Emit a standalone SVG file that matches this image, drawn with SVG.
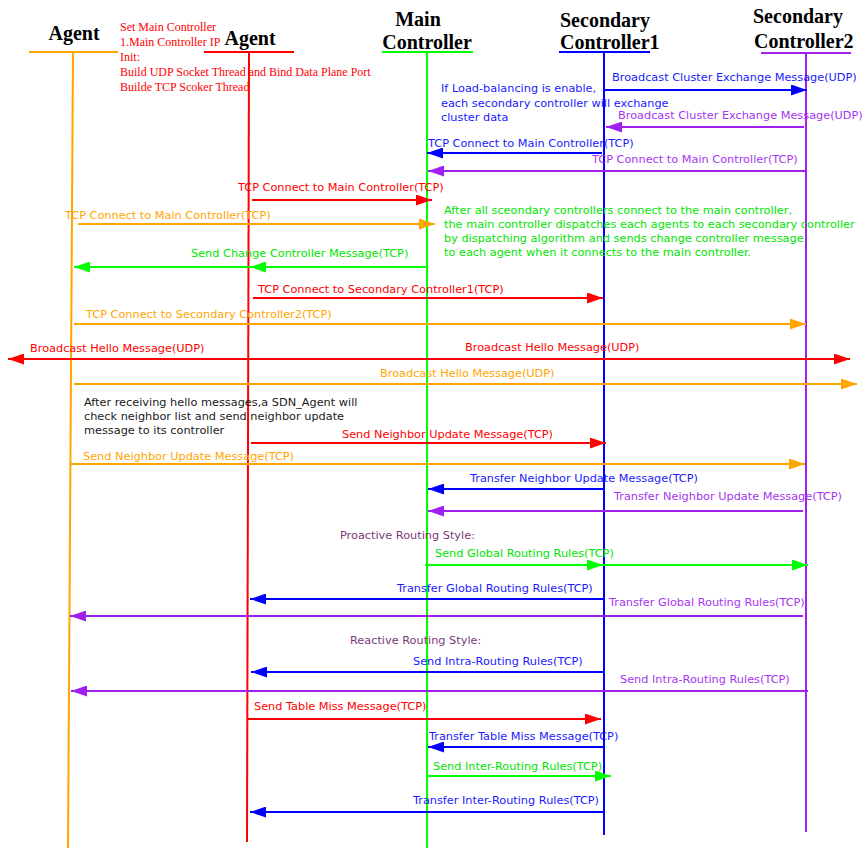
<svg xmlns="http://www.w3.org/2000/svg" width="865" height="848" viewBox="0 0 865 848">
  <style>
    .hdr { font-family: "Liberation Serif", "Times New Roman", serif; font-weight: bold; font-size: 20px; fill: #000; }
    .memo { font-family: "Liberation Serif", "Times New Roman", serif; font-size: 12px; fill: #ff0000; }
    .lbl { font-family: "DejaVu Sans", Verdana, sans-serif; font-size: 11.3px; }
    .ln { stroke-width: 2; fill: none; }
    .or { stroke: #ffa500; } .t-or { fill: #ffa500; }
    .rd { stroke: #ff0000; } .t-rd { fill: #ff0000; }
    .gr { stroke: #00ff00; } .t-gr { fill: #00e600; }
    .bl { stroke: #0000ff; } .t-bl { fill: #1a1aff; }
    .pu { stroke: #a020f0; } .t-pu { fill: #a535f0; }
    .t-bk { fill: #1a1a1a; }
    .t-mp { fill: #7a3a7a; }
  </style>
  <defs>
    <marker id="ah-or" viewBox="0 0 16 11" refX="16" refY="5.5" markerWidth="16" markerHeight="11" markerUnits="userSpaceOnUse" orient="auto"><path d="M0,0 L16,5.5 L0,11 z" fill="#ffa500"/></marker>
    <marker id="ah-rd" viewBox="0 0 16 11" refX="16" refY="5.5" markerWidth="16" markerHeight="11" markerUnits="userSpaceOnUse" orient="auto"><path d="M0,0 L16,5.5 L0,11 z" fill="#ff0000"/></marker>
    <marker id="ah-gr" viewBox="0 0 16 11" refX="16" refY="5.5" markerWidth="16" markerHeight="11" markerUnits="userSpaceOnUse" orient="auto"><path d="M0,0 L16,5.5 L0,11 z" fill="#00ff00"/></marker>
    <marker id="ah-bl" viewBox="0 0 16 11" refX="16" refY="5.5" markerWidth="16" markerHeight="11" markerUnits="userSpaceOnUse" orient="auto"><path d="M0,0 L16,5.5 L0,11 z" fill="#0000ff"/></marker>
    <marker id="ah-pu" viewBox="0 0 16 11" refX="16" refY="5.5" markerWidth="16" markerHeight="11" markerUnits="userSpaceOnUse" orient="auto"><path d="M0,0 L16,5.5 L0,11 z" fill="#a020f0"/></marker>
  </defs>
  <rect width="865" height="848" fill="#ffffff"/>

  <!-- participants: header, underline bar and lifeline -->
  <g id="agent1">
    <text class="hdr" x="74" y="40" text-anchor="middle">Agent</text>
    <line class="ln or" x1="29" y1="52" x2="118" y2="52"/>
    <line class="ln or" x1="73" y1="52" x2="68" y2="848"/>
  </g>
  <g id="agent2">
    <text class="hdr" x="250" y="45" text-anchor="middle">Agent</text>
    <line class="ln rd" x1="204" y1="52" x2="294" y2="52"/>
    <line class="ln rd" x1="249" y1="52" x2="247" y2="842"/>
  </g>
  <g id="main-controller">
    <text class="hdr" x="418" y="26" text-anchor="middle">Main</text>
    <text class="hdr" x="427" y="49" text-anchor="middle">Controller</text>
    <line class="ln gr" x1="382" y1="52" x2="473" y2="52"/>
    <line class="ln gr" x1="427" y1="52" x2="427" y2="848"/>
  </g>
  <g id="secondary-controller1">
    <text class="hdr" x="560" y="27">Secondary</text>
    <text class="hdr" x="560" y="49">Controller1</text>
    <line class="ln bl" x1="559" y1="52" x2="650" y2="52"/>
    <line class="ln bl" x1="604" y1="52" x2="604" y2="835"/>
  </g>
  <g id="secondary-controller2">
    <text class="hdr" x="753" y="23">Secondary</text>
    <text class="hdr" x="754" y="48">Controller2</text>
    <line class="ln pu" x1="761" y1="53" x2="851" y2="53"/>
    <line class="ln pu" x1="806" y1="53" x2="806" y2="832"/>
  </g>

  <!-- annotations -->
  <g id="notes">
    <text class="memo" x="120" y="31">Set Main Controller</text>
    <text class="memo" x="120" y="46">1.Main Controller IP</text>
    <text class="memo" x="120" y="61">Init:</text>
    <text class="memo" x="120" y="76">Build UDP Socket Thread and Bind Data Plane Port</text>
    <text class="memo" x="120" y="91">Builde TCP Scoker Thread</text>

    <text class="lbl t-bl" x="441" y="92">If Load-balancing is enable,</text>
    <text class="lbl t-bl" x="441" y="107">each secondary controller will exchange</text>
    <text class="lbl t-bl" x="441" y="121">cluster data</text>

    <text class="lbl t-gr" x="444" y="214">After all sceondary controllers connect to the main controller,</text>
    <text class="lbl t-gr" x="444" y="228">the main controller dispatches each agents to each secondary controller</text>
    <text class="lbl t-gr" x="444" y="242">by dispatching algorithm and sends change controller message</text>
    <text class="lbl t-gr" x="444" y="256">to each agent when it connects to the main controller.</text>

    <text class="lbl t-bk" x="84" y="406">After receiving hello messages,a SDN_Agent will</text>
    <text class="lbl t-bk" x="84" y="420">check neighbor list and send neighbor update</text>
    <text class="lbl t-bk" x="84" y="434">message to its controller</text>

    <text class="lbl t-mp" x="340" y="539">Proactive Routing Style:</text>
    <text class="lbl t-mp" x="350" y="644">Reactive Routing Style:</text>
  </g>

  <!-- messages -->
  <g id="connectors">
    <line class="ln bl" x1="605" y1="90" x2="807" y2="90" marker-end="url(#ah-bl)"/>
    <text class="lbl t-bl" x="612" y="81">Broadcast Cluster Exchange Message(UDP)</text>

    <line class="ln pu" x1="804" y1="127" x2="606" y2="127" marker-end="url(#ah-pu)"/>
    <text class="lbl t-pu" x="618" y="119">Broadcast Cluster Exchange Message(UDP)</text>

    <line class="ln bl" x1="602" y1="153" x2="427" y2="153" marker-end="url(#ah-bl)"/>
    <text class="lbl t-bl" x="428" y="147">TCP Connect to Main Controller(TCP)</text>

    <line class="ln pu" x1="806" y1="171" x2="428" y2="171" marker-end="url(#ah-pu)"/>
    <text class="lbl t-pu" x="592" y="163">TCP Connect to Main Controller(TCP)</text>

    <line class="ln rd" x1="252" y1="200" x2="432" y2="200" marker-end="url(#ah-rd)"/>
    <text class="lbl t-rd" x="238" y="191">TCP Connect to Main Controller(TCP)</text>

    <line class="ln or" x1="78" y1="224" x2="435" y2="224" marker-end="url(#ah-or)"/>
    <text class="lbl t-or" x="65" y="219">TCP Connect to Main Controller(TCP)</text>

    <line class="ln gr" x1="427" y1="267" x2="250" y2="267" marker-end="url(#ah-gr)"/>
    <line class="ln gr" x1="250" y1="267" x2="74" y2="267" marker-end="url(#ah-gr)"/>
    <text class="lbl t-gr" x="191" y="257">Send Change Controller Message(TCP)</text>

    <line class="ln rd" x1="253" y1="298" x2="603" y2="298" marker-end="url(#ah-rd)"/>
    <text class="lbl t-rd" x="258" y="293">TCP Connect to Secondary Controller1(TCP)</text>

    <line class="ln or" x1="74" y1="324" x2="806" y2="324" marker-end="url(#ah-or)"/>
    <text class="lbl t-or" x="86" y="318">TCP Connect to Secondary Controller2(TCP)</text>

    <line class="ln rd" x1="249" y1="359" x2="8" y2="359" marker-end="url(#ah-rd)"/>
    <line class="ln rd" x1="249" y1="359" x2="850" y2="359" marker-end="url(#ah-rd)"/>
    <text class="lbl t-rd" x="30" y="352">Broadcast Hello Message(UDP)</text>
    <text class="lbl t-rd" x="465" y="351">Broadcast Hello Message(UDP)</text>

    <line class="ln or" x1="74" y1="384" x2="857" y2="384" marker-end="url(#ah-or)"/>
    <text class="lbl t-or" x="380" y="377">Broadcast Hello Message(UDP)</text>

    <line class="ln rd" x1="251" y1="443" x2="606" y2="443" marker-end="url(#ah-rd)"/>
    <text class="lbl t-rd" x="342" y="438">Send Neighbor Update Message(TCP)</text>

    <line class="ln or" x1="70" y1="464" x2="805" y2="464" marker-end="url(#ah-or)"/>
    <text class="lbl t-or" x="83" y="460">Send Neighbor Update Message(TCP)</text>

    <line class="ln bl" x1="604" y1="489" x2="428" y2="489" marker-end="url(#ah-bl)"/>
    <text class="lbl t-bl" x="470" y="482">Transfer Neighbor Update Message(TCP)</text>

    <line class="ln pu" x1="803" y1="511" x2="428" y2="511" marker-end="url(#ah-pu)"/>
    <text class="lbl t-pu" x="614" y="500">Transfer Neighbor Update Message(TCP)</text>

    <line class="ln gr" x1="425" y1="565" x2="603" y2="565" marker-end="url(#ah-gr)"/>
    <line class="ln gr" x1="603" y1="565" x2="808" y2="565" marker-end="url(#ah-gr)"/>
    <text class="lbl t-gr" x="435" y="557">Send Global Routing Rules(TCP)</text>

    <line class="ln bl" x1="603" y1="599" x2="250" y2="599" marker-end="url(#ah-bl)"/>
    <text class="lbl t-bl" x="397" y="592">Transfer Global Routing Rules(TCP)</text>

    <line class="ln pu" x1="803" y1="616" x2="70" y2="616" marker-end="url(#ah-pu)"/>
    <text class="lbl t-pu" x="609" y="606">Transfer Global Routing Rules(TCP)</text>

    <line class="ln bl" x1="605" y1="672" x2="251" y2="672" marker-end="url(#ah-bl)"/>
    <text class="lbl t-bl" x="413" y="665">Send Intra-Routing Rules(TCP)</text>

    <line class="ln pu" x1="808" y1="691" x2="71" y2="691" marker-end="url(#ah-pu)"/>
    <text class="lbl t-pu" x="620" y="683">Send Intra-Routing Rules(TCP)</text>

    <line class="ln rd" x1="248" y1="719" x2="601" y2="719" marker-end="url(#ah-rd)"/>
    <text class="lbl t-rd" x="254" y="710">Send Table Miss Message(TCP)</text>

    <line class="ln bl" x1="604" y1="747" x2="428" y2="747" marker-end="url(#ah-bl)"/>
    <text class="lbl t-bl" x="429" y="740">Transfer Table Miss Message(TCP)</text>

    <line class="ln gr" x1="428" y1="776" x2="611" y2="776" marker-end="url(#ah-gr)"/>
    <text class="lbl t-gr" x="433" y="770">Send Inter-Routing Rules(TCP)</text>

    <line class="ln bl" x1="604" y1="812" x2="250" y2="812" marker-end="url(#ah-bl)"/>
    <text class="lbl t-bl" x="413" y="804">Transfer Inter-Routing Rules(TCP)</text>
  </g>
</svg>
